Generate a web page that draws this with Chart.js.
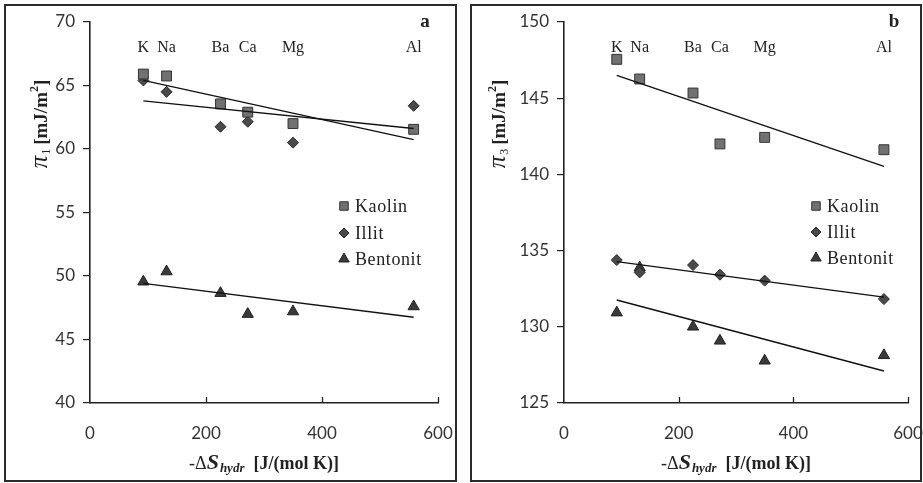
<!DOCTYPE html>
<html>
<head>
<meta charset="utf-8">
<script src="https://cdn.jsdelivr.net/npm/chart.js@4.4.1/dist/chart.umd.min.js"></script>
<style>
  html, body { margin: 0; padding: 0; background: #fff; }
  body { width: 923px; height: 483px; position: relative; overflow: hidden; }
  canvas { position: absolute; top: 0; }
  #panelA { left: 0; }
  #panelB { left: 460px; }
  .frame { position: absolute; border: 2px solid #2b2b2b; box-sizing: border-box; pointer-events: none; }
</style>
</head>
<body>
<canvas id="panelA" width="460" height="483"></canvas>
<canvas id="panelB" width="463" height="483"></canvas>
<div class="frame" style="left:4px;top:4px;width:453px;height:478px"></div>
<div class="frame" style="left:470px;top:4px;width:452px;height:478px"></div>
<script>
// Cations and their hydration entropy, -ΔS_hydr [J/(mol K)]
const cations = ['K', 'Na', 'Ba', 'Ca', 'Mg', 'Al'];
const entropy = [92, 132, 225, 272, 350, 558];

// Panel a: π1 [mJ/m²]
const kaolinA   = [65.9, 65.75, 63.55, 62.9, 62.0, 61.55];
const illitA    = [65.4, 64.5, 61.75, 62.15, 60.5, 63.4];
const bentonitA = [49.55, 50.35, 48.65, 47.0, 47.2, 47.6];

// Panel b: π3 [mJ/m²]
const kaolinB   = [147.55, 146.26, 145.34, 142.0, 142.43, 141.62];
const illitB    = [134.38, 133.57, 134.05, 133.42, 133.03, 131.82];
const bentonitB = [130.93, 133.88, 130.0, 129.08, 127.77, 128.13];

// Axis ticks
const xTicks = [0, 200, 400, 600];
const yTicksA = [40, 45, 50, 55, 60, 65, 70];
const yTicksB = [125, 130, 135, 140, 145, 150];

const SERIF = '"Liberation Serif", "Times New Roman", serif';
const SANS = 'Lato, "Open Sans", sans-serif';
const INK = '#222';

const seriesStyle = {
  Kaolin:   { pointStyle: 'rect',     radius: 7,   fill: '#717171', stroke: '#333', legendRadius: 6 },
  Illit:    { pointStyle: 'rectRot',  radius: 5.5, fill: '#4a4a4a', stroke: '#2a2a2a', legendRadius: 5 },
  Bentonit: { pointStyle: 'triangle', radius: 6.5, fill: '#3a3a3a', stroke: '#222', legendRadius: 6 }
};

function points(xs, ys) {
  return xs.map((x, i) => ({ x: x, y: ys[i] }));
}

// Least-squares trend line spanning the measured range
function trend(xs, ys) {
  const n = xs.length;
  const mx = xs.reduce((a, b) => a + b, 0) / n;
  const my = ys.reduce((a, b) => a + b, 0) / n;
  let sxy = 0, sxx = 0;
  for (let i = 0; i < n; i++) {
    sxy += (xs[i] - mx) * (ys[i] - my);
    sxx += (xs[i] - mx) * (xs[i] - mx);
  }
  const k = sxy / sxx;
  const x0 = Math.min(...xs), x1 = Math.max(...xs);
  return [{ x: x0, y: my + k * (x0 - mx) }, { x: x1, y: my + k * (x1 - mx) }];
}

// Draws a run of differently styled text pieces centred on cx
function drawRuns(ctx, runs, cx, baseY) {
  let total = 0;
  runs.forEach(r => { ctx.font = r.font; r.w = ctx.measureText(r.text).width; total += r.w + (r.gap || 0); });
  let x = cx - total / 2;
  ctx.textAlign = 'left';
  ctx.textBaseline = 'alphabetic';
  runs.forEach(r => {
    ctx.font = r.font;
    ctx.fillText(r.text, x, baseY + (r.dy || 0));
    x += r.w + (r.gap || 0);
  });
}

const decorations = {
  id: 'decorations',
  afterDraw(chart, args, opts) {
    const ctx = chart.ctx;
    const xs = chart.scales.x;
    const area = chart.chartArea;
    ctx.save();
    ctx.fillStyle = INK;
    ctx.strokeStyle = INK;

    // inward tick marks on the x axis
    ctx.lineWidth = 1.3;
    xTicks.slice(1).forEach(v => {
      const px = Math.round(xs.getPixelForValue(v)) + 0.5;
      ctx.beginPath();
      ctx.moveTo(px, area.bottom);
      ctx.lineTo(px, area.bottom - 6);
      ctx.stroke();
    });

    // cation labels above the points
    ctx.font = '16px ' + SERIF;
    ctx.textAlign = 'center';
    ctx.textBaseline = 'middle';
    cations.forEach((c, i) => ctx.fillText(c, xs.getPixelForValue(entropy[i]), 48));

    // panel letter
    ctx.font = 'bold 19px ' + SERIF;
    ctx.fillText(opts.letter, opts.letterX, 22);

    // legend
    ctx.font = '18px ' + SERIF;
    ctx.textAlign = 'left';
    ctx.letterSpacing = '0.6px';
    ['Kaolin', 'Illit', 'Bentonit'].forEach((name, i) => {
      const st = seriesStyle[name];
      const y = opts.legendY[i];
      ctx.fillStyle = st.fill;
      ctx.strokeStyle = st.stroke;
      ctx.lineWidth = 1;
      Chart.helpers.drawPoint(ctx, { pointStyle: st.pointStyle, radius: st.legendRadius, borderWidth: 1 }, opts.legendX, y);
      ctx.fillStyle = INK;
      ctx.fillText(name, opts.legendX + 11, y + 1);
    });
    ctx.letterSpacing = '0px';

    // x axis title: -ΔS_hydr [J/(mol K)]
    ctx.fillStyle = INK;
    drawRuns(ctx, [
      { text: '-Δ', font: '18px ' + SERIF },
      { text: 'S', font: 'italic bold 22px ' + SERIF, gap: 1 },
      { text: 'hydr', font: 'italic bold 13px ' + SERIF, dy: 3, gap: 9 },
      { text: '[J/(mol K)]', font: 'bold 18px ' + SERIF }
    ], (area.left + area.right) / 2, 469);

    // y axis title: π_n [mJ/m²]
    ctx.save();
    ctx.translate(opts.yTitleX, opts.yTitleY);
    ctx.rotate(-Math.PI / 2);
    drawRuns(ctx, [
      { text: 'π', font: 'italic 25px ' + SERIF, gap: 1 },
      { text: opts.sub, font: '12px ' + SERIF, dy: 3, gap: 4 },
      { text: '[mJ/m', font: 'bold 19px ' + SERIF },
      { text: '2', font: 'bold 12px ' + SERIF, dy: -9 },
      { text: ']', font: 'bold 19px ' + SERIF }
    ], 0, 7);
    ctx.restore();

    ctx.restore();
  }
};

function makePanel(id, cfg) {
  const scatter = (label, ys) => {
    const st = seriesStyle[label];
    return {
      label: label,
      data: points(entropy, ys),
      pointStyle: st.pointStyle,
      pointRadius: st.radius,
      backgroundColor: st.fill,
      borderColor: st.stroke,
      borderWidth: 1,
      order: 2
    };
  };
  const fit = ys => ({
    type: 'line',
    data: trend(entropy, ys),
    borderColor: '#111',
    borderWidth: 1.4,
    pointRadius: 0,
    fill: false,
    order: 1
  });
  const tickFont = { family: SANS, size: 17 };

  new Chart(document.getElementById(id), {
    type: 'scatter',
    data: {
      datasets: [
        scatter('Kaolin', cfg.kaolin),
        scatter('Illit', cfg.illit),
        scatter('Bentonit', cfg.bentonit),
        fit(cfg.kaolin),
        fit(cfg.illit),
        fit(cfg.bentonit)
      ]
    },
    options: {
      responsive: false,
      devicePixelRatio: 1,
      animation: false,
      layout: { padding: { left: 0, top: 22, right: cfg.padRight, bottom: 0 } },
      plugins: {
        legend: { display: false },
        tooltip: { enabled: false },
        decorations: cfg.deco
      },
      scales: {
        x: {
          type: 'linear',
          min: xTicks[0],
          max: xTicks[xTicks.length - 1],
          afterBuildTicks: s => { s.ticks = xTicks.map(v => ({ value: v })); },
          ticks: { font: tickFont, color: '#333', padding: 20, maxRotation: 0 },
          grid: { drawOnChartArea: false, drawTicks: false },
          border: { display: true, color: INK, width: 1.6 },
          afterFit: s => { s.height = 80; s.paddingLeft = 0; s.paddingRight = 0; }
        },
        y: {
          type: 'linear',
          min: cfg.yTicks[0],
          max: cfg.yTicks[cfg.yTicks.length - 1],
          afterBuildTicks: s => { s.ticks = cfg.yTicks.map(v => ({ value: v })); },
          ticks: { font: tickFont, color: '#333', padding: 8 },
          grid: { drawOnChartArea: false, drawTicks: true, tickLength: 7, color: INK, lineWidth: 1.2 },
          border: { display: true, color: INK, width: 1.6 },
          afterFit: s => { s.width = cfg.left; s.paddingTop = 0; s.paddingBottom = 0; }
        }
      }
    },
    plugins: [decorations]
  });
}

makePanel('panelA', {
  kaolin: kaolinA, illit: illitA, bentonit: bentonitA,
  yTicks: yTicksA, left: 90, padRight: 22,
  deco: { letter: 'a', letterX: 425, legendX: 344, legendY: [206, 233, 259], sub: '1', yTitleX: 40, yTitleY: 124 }
});

makePanel('panelB', {
  kaolin: kaolinB, illit: illitB, bentonit: bentonitB,
  yTicks: yTicksB, left: 104, padRight: 15,
  deco: { letter: 'b', letterX: 434, legendX: 356, legendY: [206, 232, 258], sub: '3', yTitleX: 38, yTitleY: 124 }
});
</script>
</body>
</html>
